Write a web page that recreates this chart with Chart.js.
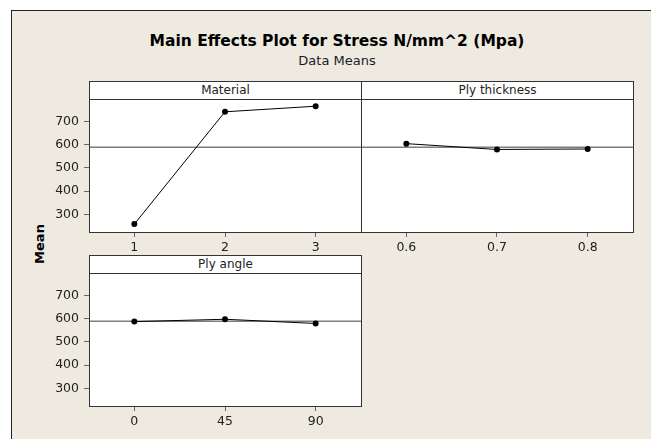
<!DOCTYPE html>
<html>
<head>
<meta charset="utf-8">
<script src="https://cdn.jsdelivr.net/npm/chart.js@4.4.1/dist/chart.umd.min.js"></script>
<style>
  html, body { margin:0; padding:0; background:#fff; overflow:hidden; width:651px; height:439px; }
  #frame { position:absolute; left:11px; top:10px; width:700px; height:500px; background:#EEEAE0;
           border-left:1px solid #222; border-top:1px solid #222; }
  .txt { position:absolute; font-family:"DejaVu Sans", sans-serif; white-space:nowrap; }
  #title { left:0; width:674px; top:34px; text-align:center; font-weight:bold; font-size:15.5px; line-height:15.5px; color:#000; }
  #sub { left:0; width:674px; top:54px; text-align:center; font-size:13px; line-height:13px; color:#1a1a2a; }
  #ylab { left:10px; top:236px; width:60px; height:16px; line-height:16px; text-align:center;
          font-weight:bold; font-size:13px; color:#000; transform:rotate(-90deg); }
  .hdr { position:absolute; box-sizing:border-box; height:19px; width:273px; background:#fff; border:1px solid #333;
         font-family:"DejaVu Sans", sans-serif; font-size:12px; line-height:17px; text-align:center; color:#222; }
  canvas { position:absolute; }
</style>
</head>
<body>
<div id="frame"></div>
<div class="txt" id="title">Main Effects Plot for Stress N/mm^2 (Mpa)</div>
<div class="txt" id="sub">Data Means</div>
<div class="txt" id="ylab">Mean</div>

<div class="hdr" style="left:89px; top:81px;">Material</div>
<div class="hdr" style="left:361px; top:81px;">Ply thickness</div>
<div class="hdr" style="left:89px; top:255px;">Ply angle</div>

<canvas id="cMaterial" width="325" height="165" style="left:40px; top:95px;"></canvas>
<canvas id="cThickness" width="276" height="165" style="left:361px; top:95px;"></canvas>
<canvas id="cAngle" width="325" height="165" style="left:40px; top:269px;"></canvas>

<script>
// shared y axis
const yTickVals = [300, 400, 500, 600, 700];
const yRange = [224, 796];
const grandMean = 588;

// Material
const materialLevels = [1, 2, 3];
const materialLabels = ["1", "2", "3"];
const materialMeans = [258, 741, 765];

// Ply thickness
const thicknessLevels = [0.6, 0.7, 0.8];
const thicknessLabels = ["0.6", "0.7", "0.8"];
const thicknessMeans = [604, 579, 581];

// Ply angle
const angleLevels = [0, 45, 90];
const angleLabels = ["0", "45", "90"];
const angleMeans = [587, 597, 579];

const panelBox = {
  id: "panelBox",
  beforeDraw(chart){
    const a = chart.chartArea, ctx = chart.ctx;
    ctx.save();
    ctx.fillStyle = "#fff";
    ctx.fillRect(a.left, a.top, a.right - a.left, a.bottom - a.top);
    ctx.restore();
  },
  afterDraw(chart){
    const a = chart.chartArea, ctx = chart.ctx;
    ctx.save();
    ctx.strokeStyle = "#333";
    ctx.lineWidth = 1;
    ctx.strokeRect(Math.round(a.left) + 0.5, Math.round(a.top) + 0.5,
                   Math.round(a.right - a.left), Math.round(a.bottom - a.top));
    ctx.restore();
  }
};

const tickFont = { family: "DejaVu Sans", size: 12.5 };

function DRAW_PANEL(canvasId, levels, labels, means, showY){
  const step = levels[1] - levels[0];
  const xMin = levels[0] - step / 2;
  const xMax = levels[levels.length - 1] + step / 2;

  return new Chart(document.getElementById(canvasId), {
    type: "line",
    data: {
      datasets: [
        {
          data: levels.map((x, i) => ({ x, y: means[i] })),
          borderColor: "#000",
          borderWidth: 1,
          pointRadius: 3,
          pointBackgroundColor: "#000",
          pointBorderColor: "#000",
          pointBorderWidth: 0,
          tension: 0
        },
        {
          data: [{ x: xMin, y: grandMean }, { x: xMax, y: grandMean }],
          borderColor: "#7d7d7d",
          borderWidth: 1.5,
          pointRadius: 0
        }
      ]
    },
    options: {
      responsive: false,
      animation: false,
      devicePixelRatio: 1,
      layout: { padding: { top: 4, right: 4, left: 0, bottom: 0 }, autoPadding: false },
      plugins: { legend: { display: false }, tooltip: { enabled: false } },
      scales: {
        x: {
          type: "linear",
          min: xMin,
          max: xMax,
          afterBuildTicks: s => { s.ticks = levels.map(v => ({ value: v })); },
          afterFit: s => { s.height = 28; s.paddingLeft = 0; s.paddingRight = 0; },
          grid: { drawOnChartArea: false, drawTicks: true, tickLength: 5, color: "#666" },
          border: { display: false },
          ticks: {
            autoSkip: false, maxRotation: 0, padding: 3, color: "#222", font: tickFont,
            callback: (v, i) => labels[i]
          }
        },
        y: {
          display: showY,
          min: yRange[0],
          max: yRange[1],
          afterBuildTicks: s => { s.ticks = yTickVals.map(v => ({ value: v })); },
          afterFit: s => { s.width = showY ? 49 : 0; s.paddingTop = 0; s.paddingBottom = 0; },
          grid: { drawOnChartArea: false, drawTicks: true, tickLength: 5, color: "#666" },
          border: { display: false },
          ticks: { padding: 5, color: "#222", font: tickFont }
        }
      }
    },
    plugins: [panelBox]
  });
}

DRAW_PANEL("cMaterial", materialLevels, materialLabels, materialMeans, true);
DRAW_PANEL("cThickness", thicknessLevels, thicknessLabels, thicknessMeans, false);
DRAW_PANEL("cAngle", angleLevels, angleLabels, angleMeans, true);
</script>
</body>
</html>
